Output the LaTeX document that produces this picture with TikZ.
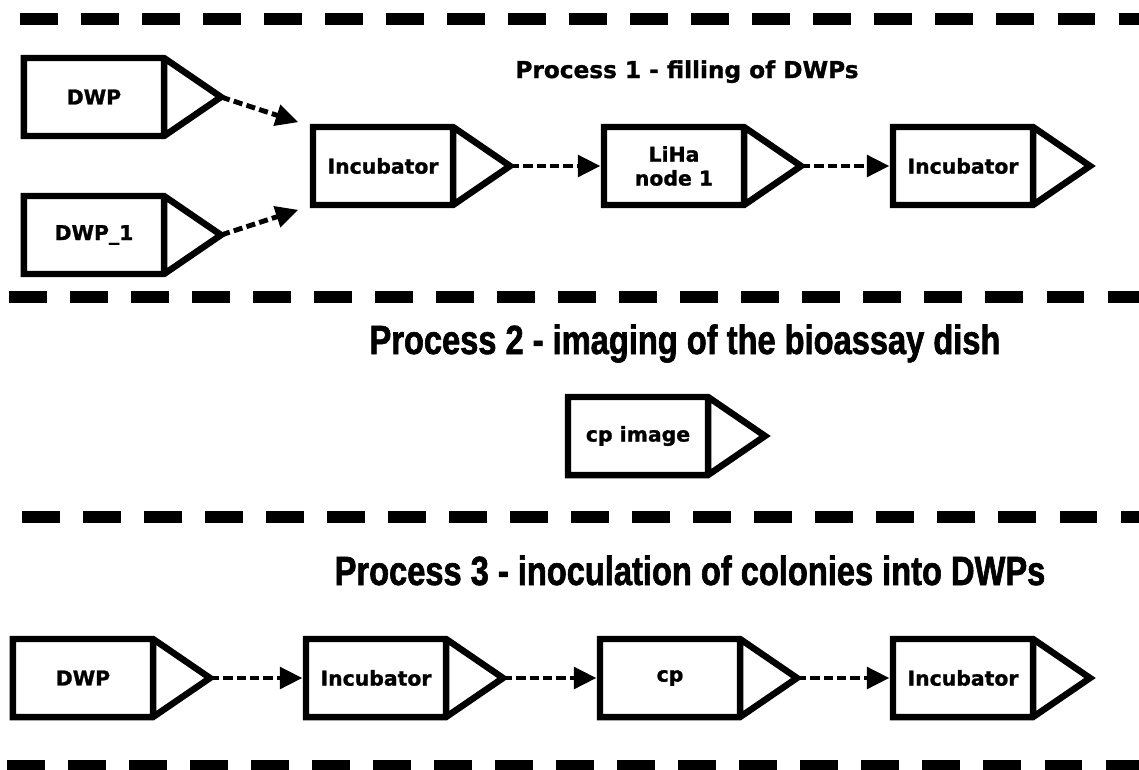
\documentclass[tikz,border=0pt]{standalone}
\usepackage{fontspec}
\setmainfont{DejaVu Sans}[BoldFeatures={FakeBold=1.2}]
\newfontfamily\condfont[FakeStretch=0.8, BoldFeatures={FakeBold=1.5}]{Liberation Sans}
\usetikzlibrary{calc, arrows.meta}

\begin{document}
\begin{tikzpicture}[x=0.025cm, y=-0.025cm, >={Triangle[length=16pt, width=15pt]}]
		\tikzstyle{stage} = [minimum width=3.5cm, minimum height=1.95cm, inner sep=0pt, outer sep=0pt, align=center, font=\bfseries\fontsize{14.5}{17}\selectfont]
		\tikzstyle{outline} = [line width=4.6pt, line join=miter]
		\tikzstyle{arrow} = [->, line width=3.5pt, dash pattern=on 6.5pt off 3pt, shorten >=2.5pt]
		\tikzstyle{separator} = [line width=8pt, dash pattern=on 27pt off 16.4pt]
		\tikzstyle{title} = [anchor=base, font=\condfont\bfseries\fontsize{29}{31}\selectfont]

		\useasboundingbox (0, 0) rectangle (1139, 770);

		% separators between the processes
		\draw[separator] (20, 19) -- (1139, 19);
		\draw[separator] (9, 297) -- (1139, 297);
		\draw[separator] (22, 517) -- (1139, 517);
		\draw[separator] (7, 766) -- (1139, 766);

		% titles
		\node[title, font=\bfseries\fontsize{16.5}{19}\selectfont] at (687, 78) (title1) {Process 1 - filling of DWPs};
		\node[title] at (685, 354) (title2) {Process 2 - imaging of the bioassay dish};
		\node[title] at (690, 585) (title3) {Process 3 - inoculation of colonies into DWPs};

		% process 1
		\node[stage] at (94, 97) (p1dwp) {DWP};
		\node[stage] at (94, 235) (p1dwpone) {DWP\_1};
		\node[stage] at (383, 166) (p1inc) {Incubator};
		\node[stage] at (674, 166) (p1liha) {LiHa\\node 1};
		\node[stage] at (963, 166) (p1incb) {Incubator};

		% process 2
		\node[stage] at (638, 436) (p2cpimage) {cp image};

		% process 3
		\node[stage] at (83, 678) (p3dwp) {DWP};
		\node[stage] at (376, 678) (p3inc) {Incubator};
		\node[stage] at (670, 678) (p3cp) {cp};
		\node[stage] at (963, 678) (p3incb) {Incubator};

		\foreach \n in {p1dwp, p1dwpone, p1inc, p1liha, p1incb, p2cpimage, p3dwp, p3inc, p3cp, p3incb}
			\draw[outline] (\n.north west) -- (\n.north east) -- ($(\n.east)+(57,0)$) coordinate (\n-tip) -- (\n.south east) -- (\n.south west) -- cycle
				(\n.north east) -- (\n.south east);

		\draw[arrow, shorten >=11pt] (p1dwp-tip) -- (p1inc.north west);
		\draw[arrow, shorten >=11pt] (p1dwpone-tip) -- (p1inc.south west);
		\draw[arrow] (p1inc-tip) -- (p1liha);
		\draw[arrow] (p1liha-tip) -- (p1incb);
		\draw[arrow] (p3dwp-tip) -- (p3inc);
		\draw[arrow] (p3inc-tip) -- (p3cp);
		\draw[arrow] (p3cp-tip) -- (p3incb);
	\end{tikzpicture}
\end{document}
